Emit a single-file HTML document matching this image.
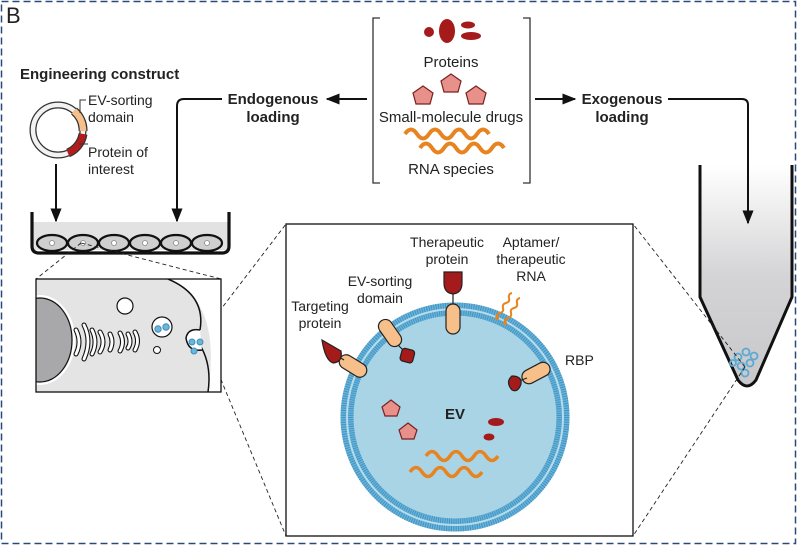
<!DOCTYPE html>
<html><head><meta charset="utf-8"><style>
html,body{margin:0;padding:0;background:#fff}
svg{display:block}
text{font-family:"Liberation Sans",sans-serif;fill:#222}
</style></head><body>
<svg width="797" height="545" viewBox="0 0 797 545" xmlns="http://www.w3.org/2000/svg">
<defs>
<marker id="ah" viewBox="0 0 10 10" refX="9" refY="5" markerWidth="7" markerHeight="7" orient="auto"><path d="M0,1 L10,5 L0,9 z" fill="#111"/></marker>
<linearGradient id="tg" x1="0" y1="0" x2="0" y2="1"><stop offset="0" stop-color="#fff"/><stop offset="0.5" stop-color="#d4d4d6"/><stop offset="1" stop-color="#c8c8ca"/></linearGradient>
<clipPath id="cb"><rect x="36" y="279" width="185" height="113"/></clipPath>
</defs>
<rect x="1.5" y="1.5" width="794" height="542" fill="#fff" stroke="#2b4a7a" stroke-width="1.5" stroke-dasharray="7 4"/>
<text x="6" y="23" font-size="22" fill="#111">B</text>

<!-- Top bracket -->
<path d="M380,18 H373 V183 H380 M523,18 H530 V183 H523" fill="none" stroke="#333" stroke-width="1.3"/>
<circle cx="429" cy="32" r="5" fill="#a51b1b"/>
<ellipse cx="447" cy="31" rx="8" ry="12" fill="#a51b1b"/>
<ellipse cx="468" cy="25" rx="7" ry="3.5" fill="#a51b1b"/>
<ellipse cx="471" cy="36" rx="10" ry="4" fill="#a51b1b"/>
<text x="451" y="67" font-size="15" text-anchor="middle">Proteins</text>
<g fill="#e8918a" stroke="#7a2020" stroke-width="1.2">
<polygon points="451,74 461,81 458,92 444,92 441,81"/>
<polygon points="423,86 433,93 430,104 416,104 413,93"/>
<polygon points="476,86 486,93 483,104 469,104 466,93"/>
</g>
<text x="451" y="122" font-size="15" text-anchor="middle">Small-molecule drugs</text>
<g fill="none" stroke="#e8841f" stroke-width="4">
<path d="M405,134 q6,-9 12,0 t12,0 t12,0 t12,0 t12,0 t12,0 t12,0"/>
<path d="M420,148 q6,-9 12,0 t12,0 t12,0 t12,0 t12,0 t12,0 t12,0"/>
</g>
<text x="451" y="174" font-size="15" text-anchor="middle">RNA species</text>

<!-- Endogenous -->
<line x1="367" y1="99" x2="327" y2="99" stroke="#111" stroke-width="2" marker-end="url(#ah)"/>
<text x="273" y="104" font-size="15" font-weight="bold" text-anchor="middle">Endogenous</text>
<text x="273" y="122" font-size="15" font-weight="bold" text-anchor="middle">loading</text>
<path d="M222,99 H184 Q177,99 177,106 V221" fill="none" stroke="#111" stroke-width="2" marker-end="url(#ah)"/>

<!-- Exogenous -->
<line x1="535" y1="99" x2="575" y2="99" stroke="#111" stroke-width="2" marker-end="url(#ah)"/>
<text x="622" y="104" font-size="15" font-weight="bold" text-anchor="middle">Exogenous</text>
<text x="622" y="122" font-size="15" font-weight="bold" text-anchor="middle">loading</text>

<!-- Tube -->
<path d="M700,165 V297 L738,380 Q747,392 756,380 L792,297 V165 Z" fill="url(#tg)"/>
<path d="M700,165 V297 L738,380 Q747,392 756,380 L792,297 V165" fill="none" stroke="#111" stroke-width="3"/>
<path d="M668,99 H742 Q748,99 748,105 V223" fill="none" stroke="#111" stroke-width="2" marker-end="url(#ah)"/>
<g fill="none" stroke="#5aaad3" stroke-width="1.8">
<circle cx="738" cy="357" r="3.5"/><circle cx="746" cy="352" r="3.5"/><circle cx="754" cy="356" r="3.5"/><circle cx="741" cy="366" r="3.5"/><circle cx="750" cy="363" r="3.5"/><circle cx="745" cy="373" r="3.5"/><circle cx="733" cy="363" r="3"/>
</g>

<!-- Engineering construct -->
<text x="20" y="79" font-size="15" font-weight="bold">Engineering construct</text>
<circle cx="58" cy="130" r="25" fill="none" stroke="#333" stroke-width="7"/>
<circle cx="58" cy="130" r="25" fill="none" stroke="#f2f2f2" stroke-width="4.5"/>
<path d="M74,111 A25,25 0 0 1 83,131" fill="none" stroke="#333" stroke-width="9"/>
<path d="M74,111 A25,25 0 0 1 83,131" fill="none" stroke="#f7bf8a" stroke-width="6.5"/>
<path d="M83,134 A25,25 0 0 1 68,153" fill="none" stroke="#333" stroke-width="9"/>
<path d="M83,134 A25,25 0 0 1 68,153" fill="none" stroke="#b31c1c" stroke-width="6.5"/>
<path d="M80,113 V100 H86" fill="none" stroke="#333" stroke-width="1"/>
<path d="M79,144 L88,144" fill="none" stroke="#333" stroke-width="1"/>
<text x="88" y="105" font-size="14">EV-sorting</text>
<text x="88" y="122" font-size="14">domain</text>
<text x="88" y="157" font-size="14">Protein of</text>
<text x="88" y="174" font-size="14">interest</text>
<line x1="56" y1="164" x2="56" y2="221" stroke="#111" stroke-width="2" marker-end="url(#ah)"/>

<!-- Well -->
<rect x="32" y="222" width="197" height="28" fill="#e2e2e2"/>
<g fill="#cfcfcf" stroke="#111" stroke-width="2.2">
<ellipse cx="52" cy="243" rx="15" ry="8"/><ellipse cx="83" cy="243" rx="15" ry="8"/><ellipse cx="114" cy="243" rx="15" ry="8"/><ellipse cx="145" cy="243" rx="15" ry="8"/><ellipse cx="176" cy="243" rx="15" ry="8"/><ellipse cx="207" cy="243" rx="15" ry="8"/>
</g>
<g fill="#fff" stroke="#888" stroke-width="0.8">
<circle cx="52" cy="243" r="2.5"/><circle cx="83" cy="243" r="2.5"/><circle cx="114" cy="243" r="2.5"/><circle cx="145" cy="243" r="2.5"/><circle cx="176" cy="243" r="2.5"/><circle cx="207" cy="243" r="2.5"/>
</g>
<path d="M32,212 V246 Q32,253 39,253 H222 Q229,253 229,246 V212" fill="none" stroke="#111" stroke-width="3.2"/>

<!-- dashed zoom lines -->
<g stroke="#222" stroke-width="0.9" stroke-dasharray="4 3" fill="none">
<path d="M81,243 L36,279 M81,243 L221,279"/>
<path d="M202,334 L286,224 M202,334 L286,536"/>
<path d="M745,367 L633,224 M745,367 L633,536"/>
</g>

<!-- cell box -->
<g clip-path="url(#cb)">
<rect x="36" y="279" width="185" height="113" fill="#e4e4e4"/>
<path d="M168,279 Q222,300 208,392 L221,392 V279 Z" fill="#fff"/>
<path d="M168,279 Q206,295 200,330" fill="none" stroke="#111" stroke-width="1.5"/>
<path d="M200,345 Q212,365 208,392" fill="none" stroke="#111" stroke-width="1.5"/>
<path d="M200,330 Q188,328 186,338 Q188,352 202,350" fill="#fff" stroke="#111" stroke-width="1.5"/>
<ellipse cx="40" cy="340" rx="32" ry="42" fill="#a8a8aa" stroke="#111" stroke-width="1.2"/>
<ellipse cx="40" cy="340" rx="34" ry="44" fill="none" stroke="#fff" stroke-width="2"/>
<g fill="none" stroke="#111" stroke-width="5" stroke-linecap="round">
<path d="M76,330 q6,12 0,24 M84,325 q8,16 0,34 M92,330 q6,12 0,24 M100,332 q6,10 0,20 M110,334 q4,8 0,16 M120,333 q5,9 0,18 M128,334 q4,8 0,14 M135,332 q5,9 0,18"/>
</g>
<g fill="none" stroke="#fff" stroke-width="2.8" stroke-linecap="round">
<path d="M76,330 q6,12 0,24 M84,325 q8,16 0,34 M92,330 q6,12 0,24 M100,332 q6,10 0,20 M110,334 q4,8 0,16 M120,333 q5,9 0,18 M128,334 q4,8 0,14 M135,332 q5,9 0,18"/>
</g>
<circle cx="125" cy="306" r="8" fill="#fff" stroke="#111" stroke-width="1.2"/>
<circle cx="162" cy="327" r="10" fill="#fff" stroke="#111" stroke-width="1.2"/>
<circle cx="158" cy="329" r="3.2" fill="#6cb5d8" stroke="#3a8fbe"/><circle cx="166" cy="327" r="3.2" fill="#6cb5d8" stroke="#3a8fbe"/>
<circle cx="157" cy="350" r="3.5" fill="#fff" stroke="#111" stroke-width="1"/>
<circle cx="192" cy="342" r="3" fill="#6cb5d8" stroke="#3a8fbe"/><circle cx="200" cy="342" r="3" fill="#6cb5d8" stroke="#3a8fbe"/><circle cx="194" cy="351" r="3" fill="#6cb5d8" stroke="#3a8fbe"/>
</g>
<rect x="36" y="279" width="185" height="113" fill="none" stroke="#111" stroke-width="1.3"/>

<!-- EV box -->
<rect x="286" y="224" width="347" height="312" fill="#fff" stroke="#111" stroke-width="1.3"/>
<circle cx="455" cy="417" r="114" fill="#a9d4e6"/>
<circle cx="455" cy="417" r="108" fill="none" stroke="#6db3d8" stroke-width="13"/>
<circle cx="455" cy="417" r="108" fill="none" stroke="#3f95c4" stroke-width="13" stroke-dasharray="1 1.3"/>
<circle cx="455" cy="417" r="108" fill="none" stroke="#b5dcec" stroke-width="2"/>
<text x="455" y="419" font-size="15" font-weight="bold" text-anchor="middle">EV</text>
<g fill="#e8918a" stroke="#7a2020" stroke-width="1.2">
<polygon points="391,400 400,407 397,416 385,416 382,407"/>
<polygon points="408,423 417,430 414,439 402,439 399,430"/>
</g>
<ellipse cx="496" cy="422" rx="8" ry="4" fill="#a51b1b"/>
<ellipse cx="489" cy="437" rx="5.5" ry="3.5" fill="#a51b1b"/>
<g fill="none" stroke="#e8841f" stroke-width="3.6">
<path d="M426,456 q6,-9 12,0 t12,0 t12,0 t12,0 t12,0 t12,0"/>
<path d="M410,472 q6,-9 12,0 t12,0 t12,0 t12,0 t12,0 t12,0"/>
</g>
<!-- surface proteins -->
<g stroke="#222" stroke-width="1.2">
<rect x="446" y="304" width="14" height="30" rx="7" fill="#f7bf8a"/>
<line x1="453" y1="304" x2="453" y2="292"/>
<path d="M444,272 H462 V283 Q462,293 453,294 Q444,293 444,283 Z" fill="#a51b1b"/>
<rect x="383" y="318" width="14" height="30" rx="7" fill="#f7bf8a" transform="rotate(-35 390 333)"/>
<line x1="398" y1="345" x2="405" y2="352"/>
<rect x="401" y="349" width="13" height="13" rx="3" fill="#a51b1b" transform="rotate(15 407 355)"/>
<rect x="346" y="351" width="14" height="30" rx="7" fill="#f7bf8a" transform="rotate(-58 353 366)"/>
<line x1="344" y1="360" x2="336" y2="355"/>
<path d="M322,340 L341,351 Q343,362 333,363 Q325,360 322,340 Z" fill="#a51b1b"/>
<rect x="529" y="358" width="14" height="30" rx="7" fill="#f7bf8a" transform="rotate(62 536 373)"/>
<line x1="527" y1="378" x2="519" y2="381"/>
<path d="M512,376 Q522,376 521,384 Q518,393 512,390 Q505,382 512,376 Z" fill="#a51b1b"/>
</g>
<g fill="none" stroke="#e8841f" stroke-width="2">
<path d="M497,318 q-1,-4 3,-5 t3,-5 t3,-5 t3,-5 t3,-5"/>
<path d="M505,323 q-1,-4 3,-5 t3,-5 t3,-5 t3,-5 t3,-5"/>
</g>
<circle cx="497" cy="318" r="2" fill="#e8841f"/><circle cx="505" cy="323" r="2" fill="#e8841f"/>
<g font-size="14">
<text x="447" y="247" text-anchor="middle">Therapeutic</text>
<text x="447" y="264" text-anchor="middle">protein</text>
<text x="531" y="247" text-anchor="middle">Aptamer/</text>
<text x="531" y="264" text-anchor="middle">therapeutic</text>
<text x="531" y="281" text-anchor="middle">RNA</text>
<text x="380" y="286" text-anchor="middle">EV-sorting</text>
<text x="380" y="303" text-anchor="middle">domain</text>
<text x="320" y="311" text-anchor="middle">Targeting</text>
<text x="320" y="328" text-anchor="middle">protein</text>
<text x="565" y="365">RBP</text>
</g>
</svg>
</body></html>
